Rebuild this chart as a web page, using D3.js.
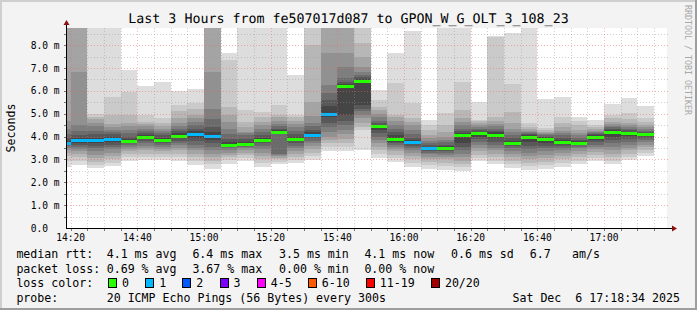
<!DOCTYPE html>
<html lang="en">
<head>
<meta charset="UTF-8">
<title>SmokePing - Last 3 Hours</title>
<style>
  body { margin: 0; background: #f3f3f3; }
  svg { display: block; font-family: 'DejaVu Sans Mono', monospace; }
  text { white-space: pre; }
</style>
</head>
<body>
<svg id="chart" width="697" height="310"></svg>
<script src="https://d3js.org/d3.v7.min.js"></script>
<script>
// ---- data ----
const title = 'Last 3 Hours from fe507017d087 to GPON_W_G_OLT_3_108_23';
const windowStart = '14:18:53';
const windowEnd = '17:18:53';
const timeTicks = ['14:20', '14:40', '15:00', '15:20', '15:40', '16:00', '16:20', '16:40', '17:00'];
const yTicks = [0, 1, 2, 3, 4, 5, 6, 7, 8];
const yTickLabels = ['0.0', '1.0 m', '2.0 m', '3.0 m', '4.0 m', '5.0 m', '6.0 m', '7.0 m', '8.0 m'];

// end time of each 5 minute step
const slotEnds = ['14:20', '14:25', '14:30', '14:35', '14:40', '14:45', '14:50', '14:55', '15:00',
  '15:05', '15:10', '15:15', '15:20', '15:25', '15:30', '15:35', '15:40', '15:45', '15:50', '15:55',
  '16:00', '16:05', '16:10', '16:15', '16:20', '16:25', '16:30', '16:35', '16:40', '16:45', '16:50',
  '16:55', '17:00', '17:05', '17:10', '17:15'];

// median rtt in ms
const medianRtt = [3.71, 3.83, 3.83, 3.90, 3.80, 3.96, 3.87, 4.04, 4.13, 4.03, 3.65, 3.69, 3.87, 4.22,
  3.91, 4.09, 5.00, 6.23, 6.45, 4.45, 3.90, 3.77, 3.48, 3.51, 4.06, 4.16, 4.09, 3.74, 4.00, 3.91,
  3.78, 3.74, 3.99, 4.21, 4.16, 4.10];

// lost pings out of 20
const lossCount = [1, 1, 1, 1, 0, 0, 0, 0, 1, 1, 0, 0, 0, 0, 0, 1, 1, 0, 0, 0, 0, 1, 1, 0, 0, 0, 0, 0,
  0, 0, 0, 0, 0, 0, 0, 0];

// sorted ping times (ms) of each step, 9.9 = above the top of the graph
const pings = [
  [2.69, 2.95, 3.15, 3.30, 3.42, 3.52, 3.60, 3.65, 3.69, 3.71, 3.75, 3.82, 3.95, 4.10, 4.35, 4.70, 9.9, 9.9, 9.9, 9.9],
  [2.76, 2.95, 3.10, 3.22, 3.35, 3.45, 3.55, 3.65, 3.74, 3.82, 3.85, 3.95, 4.08, 4.25, 4.50, 6.84, 9.9, 9.9, 9.9, 9.9],
  [2.62, 2.75, 2.90, 3.05, 3.20, 3.35, 3.50, 3.60, 3.70, 3.80, 3.86, 3.95, 4.10, 4.25, 4.45, 4.60, 4.75, 4.85, 4.98, 9.9],
  [2.72, 2.85, 3.00, 3.15, 3.30, 3.45, 3.55, 3.65, 3.75, 3.87, 3.93, 4.00, 4.10, 4.20, 4.30, 4.40, 4.55, 4.95, 5.75, 9.9],
  [2.95, 3.10, 3.25, 3.35, 3.45, 3.55, 3.62, 3.70, 3.76, 3.79, 3.81, 3.90, 4.00, 4.15, 4.30, 4.45, 4.60, 4.95, 5.97, 6.91],
  [2.97, 3.10, 3.25, 3.40, 3.50, 3.60, 3.70, 3.80, 3.90, 3.95, 3.97, 4.05, 4.15, 4.25, 4.35, 4.45, 4.55, 4.62, 4.95, 6.21],
  [2.97, 3.10, 3.22, 3.35, 3.45, 3.55, 3.65, 3.72, 3.80, 3.86, 3.88, 3.95, 4.05, 4.15, 4.25, 4.35, 4.45, 4.60, 4.80, 6.40],
  [2.95, 3.10, 3.25, 3.40, 3.52, 3.62, 3.72, 3.82, 3.92, 4.02, 4.06, 4.15, 4.25, 4.35, 4.45, 4.60, 4.80, 5.10, 5.40, 6.01],
  [2.76, 2.95, 3.10, 3.25, 3.40, 3.52, 3.65, 3.80, 3.95, 4.10, 4.16, 4.25, 4.35, 4.50, 4.65, 4.80, 4.95, 5.20, 5.47, 6.08],
  [2.59, 2.80, 2.95, 3.10, 3.25, 3.40, 3.55, 3.70, 3.85, 4.00, 4.06, 4.20, 4.40, 4.75, 5.20, 6.84, 9.9, 9.9, 9.9, 9.9],
  [2.82, 2.98, 3.10, 3.20, 3.30, 3.40, 3.48, 3.55, 3.60, 3.64, 3.66, 3.75, 3.90, 4.10, 4.35, 4.65, 4.95, 5.31, 7.35, 7.64],
  [2.91, 3.05, 3.18, 3.30, 3.40, 3.48, 3.56, 3.62, 3.66, 3.68, 3.70, 3.78, 3.90, 4.05, 4.15, 4.22, 4.40, 4.62, 5.16, 9.9],
  [2.69, 2.85, 3.00, 3.15, 3.30, 3.45, 3.58, 3.70, 3.80, 3.86, 3.88, 3.95, 4.05, 4.20, 4.35, 4.50, 4.65, 4.85, 5.09, 9.9],
  [2.79, 2.90, 3.00, 3.08, 3.15, 3.20, 3.25, 4.10, 4.18, 4.21, 4.23, 4.28, 4.35, 4.45, 4.55, 4.70, 4.85, 4.95, 5.38, 9.9],
  [2.84, 2.98, 3.10, 3.22, 3.35, 3.48, 3.60, 3.70, 3.80, 3.90, 3.92, 4.00, 4.10, 4.25, 4.40, 4.55, 4.70, 4.85, 4.95, 6.69],
  [2.97, 3.15, 3.30, 3.45, 3.58, 3.70, 3.82, 3.92, 4.02, 4.08, 4.10, 4.18, 4.30, 4.45, 4.60, 4.90, 5.50, 8.00, 9.9, 9.9],
  [3.37, 3.55, 3.70, 3.85, 4.00, 4.20, 4.40, 4.60, 4.85, 4.98, 5.02, 5.35, 5.60, 5.90, 6.26, 7.64, 9.9, 9.9, 9.9, 9.9],
  [3.35, 3.55, 3.70, 3.90, 4.10, 4.30, 4.50, 4.70, 4.95, 6.20, 6.26, 6.30, 6.40, 6.55, 7.06, 7.64, 9.9, 9.9, 9.9, 9.9],
  [3.42, 4.30, 4.44, 4.60, 4.80, 4.95, 5.10, 5.20, 5.38, 6.42, 6.47, 6.52, 6.60, 6.69, 6.84, 7.06, 7.49, 8.08, 9.9, 9.9],
  [3.05, 3.25, 3.40, 3.55, 3.70, 3.85, 4.00, 4.15, 4.30, 4.43, 4.47, 4.52, 4.60, 4.70, 4.85, 5.00, 5.15, 5.30, 5.60, 6.04],
  [2.90, 3.05, 3.20, 3.35, 3.45, 3.55, 3.62, 3.70, 3.78, 3.88, 3.92, 4.05, 4.20, 4.35, 4.50, 4.70, 4.85, 4.95, 6.33, 7.64],
  [2.65, 2.85, 3.00, 3.15, 3.28, 3.40, 3.50, 3.60, 3.70, 3.76, 3.78, 3.85, 3.95, 4.10, 4.30, 4.50, 4.65, 4.80, 5.46, 8.62],
  [2.59, 2.75, 2.90, 3.02, 3.12, 3.22, 3.30, 3.38, 3.44, 3.47, 3.49, 3.55, 3.62, 3.72, 3.82, 3.92, 4.05, 4.30, 4.52, 4.73],
  [2.52, 2.70, 2.85, 3.00, 3.10, 3.20, 3.30, 3.38, 3.45, 3.50, 3.52, 3.58, 3.65, 3.75, 3.85, 4.00, 4.20, 4.51, 5.02, 9.9],
  [2.50, 2.65, 2.80, 2.95, 3.10, 3.25, 3.40, 3.55, 3.70, 4.03, 4.08, 4.15, 4.25, 4.35, 4.50, 4.65, 4.80, 5.17, 6.40, 9.9],
  [2.91, 3.05, 3.20, 3.35, 3.50, 3.62, 3.75, 3.88, 4.00, 4.14, 4.18, 4.22, 4.28, 4.35, 4.42, 4.50, 4.60, 4.66, 4.73, 5.50],
  [2.80, 2.95, 3.10, 3.25, 3.40, 3.52, 3.65, 3.78, 3.92, 4.07, 4.11, 4.18, 4.25, 4.35, 4.45, 4.55, 4.70, 4.87, 8.37, 8.40],
  [2.63, 2.80, 2.95, 3.10, 3.25, 3.38, 3.50, 3.60, 3.68, 3.73, 3.75, 3.82, 3.92, 4.05, 4.20, 4.35, 4.60, 5.09, 6.30, 8.51],
  [2.52, 2.70, 2.85, 3.00, 3.15, 3.30, 3.45, 3.60, 3.75, 3.98, 4.02, 4.06, 4.10, 4.15, 4.20, 4.26, 4.32, 4.40, 4.58, 9.9],
  [2.59, 2.75, 2.90, 3.05, 3.20, 3.35, 3.48, 3.60, 3.72, 3.90, 3.92, 3.96, 4.00, 4.05, 4.10, 4.15, 4.20, 4.28, 4.37, 5.64],
  [2.69, 2.85, 3.00, 3.15, 3.28, 3.40, 3.50, 3.60, 3.70, 3.77, 3.79, 3.86, 3.95, 4.05, 4.15, 4.25, 4.40, 4.60, 4.87, 5.75],
  [2.79, 2.95, 3.10, 3.25, 3.38, 3.48, 3.56, 3.63, 3.69, 3.73, 3.75, 3.80, 3.87, 3.95, 4.05, 4.15, 4.30, 4.50, 4.66, 4.87],
  [2.91, 3.05, 3.20, 3.32, 3.44, 3.55, 3.65, 3.75, 3.85, 3.98, 4.00, 4.05, 4.10, 4.15, 4.20, 4.26, 4.32, 4.40, 4.51, 4.73],
  [2.79, 2.95, 3.10, 3.25, 3.40, 3.55, 3.70, 3.85, 4.00, 4.20, 4.22, 4.27, 4.32, 4.40, 4.48, 4.56, 4.65, 4.80, 4.95, 5.41],
  [2.98, 3.10, 3.25, 3.40, 3.52, 3.65, 3.78, 3.90, 4.02, 4.15, 4.17, 4.22, 4.28, 4.35, 4.42, 4.50, 4.60, 4.75, 5.02, 5.68],
  [3.17, 3.30, 3.42, 3.55, 3.65, 3.75, 3.85, 3.93, 4.02, 4.09, 4.11, 4.15, 4.20, 4.25, 4.32, 4.40, 4.50, 4.62, 4.80, 5.34]
];

const medianLegend = ['median rtt:', '4.1 ms avg', '6.4 ms max', '3.5 ms min', '4.1 ms now', '0.6 ms sd', '6.7', 'am/s'];
const lossLegend = ['packet loss:', '0.69 % avg', '3.67 % max', '0.00 % min', '0.00 % now'];
const lossLabels = ['0', '1', '2', '3', '4-5', '6-10', '11-19', '20/20'];
const lossColors = ['#26ff00', '#00b8ff', '#0059ff', '#7e00ff', '#ff00ff', '#ff5a00', '#ff0000', '#a00000'];
const probeLegend = ['probe:', '20 ICMP Echo Pings (56 Bytes) every 300s'];
const stamp = 'Sat Dec  6 17:18:34 2025';
const sideText = 'RRDTOOL / TOBI OETIKER';

// ---- layout ----
const W = 697, H = 310;
const plot = { left: 67, right: 667, top: 28, bottom: 228 };
const legendCols = [16.4, 106.7, 192.4, 279, 364.4, 451, 529.8, 572];
const legendRows = [258, 272.5, 287, 301.5];
const charW = 6.97;

const parseT = d3.timeParse('%H:%M:%S');
const parseHM = d3.timeParse('%H:%M');

const x = d3.scaleTime()
  .domain([parseT(windowStart), parseT(windowEnd)])
  .range([plot.left, plot.right]);
const y = d3.scaleLinear()
  .domain([0, 8.75])
  .range([plot.bottom, plot.top])
  .clamp(true);

const svg = d3.select('#chart');

// background + 3d border
svg.append('rect').attr('width', W).attr('height', H).attr('fill', '#f3f3f3');
svg.append('rect').attr('x', 0).attr('y', 0).attr('width', W).attr('height', 2).attr('fill', '#cfcfcf');
svg.append('rect').attr('x', 0).attr('y', 0).attr('width', 2).attr('height', H).attr('fill', '#cfcfcf');
svg.append('rect').attr('x', 0).attr('y', H - 2).attr('width', W).attr('height', 2).attr('fill', '#9e9e9e');
svg.append('rect').attr('x', W - 2).attr('y', 0).attr('width', 2).attr('height', H).attr('fill', '#9e9e9e');

// canvas
svg.append('rect')
  .attr('x', plot.left).attr('y', plot.top)
  .attr('width', plot.right - plot.left).attr('height', plot.bottom - plot.top)
  .attr('fill', '#ffffff');

svg.append('clipPath').attr('id', 'clip')
  .append('rect')
  .attr('x', plot.left).attr('y', plot.top)
  .attr('width', plot.right - plot.left).attr('height', plot.bottom - plot.top);

const g = svg.append('g').attr('clip-path', 'url(#clip)');

// smoke: band i spans ping i .. ping (21-i), darker towards the middle
const slots = slotEnds.map((s, i) => {
  const end = parseHM(s);
  return {
    x0: Math.round(x(d3.timeMinute.offset(end, -5))),
    x1: Math.round(x(end)),
    pings: pings[i],
    median: medianRtt[i],
    loss: lossCount[i]
  };
});

const half = 10;
slots.forEach(s => {
  for (let b = 1; b <= half; b++) {
    const lo = s.pings[b - 1], hi = s.pings[20 - b];
    if (lo == null || hi == null) continue;
    const v = Math.floor(190 / half * (half - b)) + 50;
    const col = d3.rgb(v, v, v).formatHex();
    const y0 = Math.round(y(hi)), y1 = Math.round(y(lo));
    g.append('rect')
      .attr('x', s.x0).attr('y', y0)
      .attr('width', s.x1 - s.x0).attr('height', Math.max(0, y1 - y0))
      .attr('fill', col)
      .attr('shape-rendering', 'crispEdges');
  }
});

// median marks coloured by loss
g.selectAll('rect.median')
  .data(slots)
  .join('rect')
  .attr('class', 'median')
  .attr('x', d => d.x0)
  .attr('y', d => Math.round(y(d.median)) - 1)
  .attr('width', d => d.x1 - d.x0)
  .attr('height', 3)
  .attr('fill', d => lossColors[d.loss])
  .attr('shape-rendering', 'crispEdges');

// grid on top (semi transparent like rrdtool)
const minorY = d3.range(0.5, 8.75, 0.5).filter(v => v % 1 !== 0);
const majorY = yTicks.filter(v => v > 0);
const minorX = d3.timeMinute.every(5).range(parseT(windowStart), parseT(windowEnd));
const majorX = timeTicks.map(parseHM);

const grid = svg.append('g').attr('shape-rendering', 'crispEdges');
grid.selectAll('line.gy')
  .data(minorY)
  .join('line')
  .attr('x1', plot.left).attr('x2', plot.right + 1)
  .attr('y1', d => Math.round(y(d)) + 0.5).attr('y2', d => Math.round(y(d)) + 0.5)
  .attr('stroke', 'rgba(150,150,150,0.45)').attr('stroke-dasharray', '1,2');
grid.selectAll('line.gx')
  .data(minorX.filter(t => !majorX.some(m => +m === +t)))
  .join('line')
  .attr('x1', d => Math.round(x(d)) + 0.5).attr('x2', d => Math.round(x(d)) + 0.5)
  .attr('y1', plot.top).attr('y2', plot.bottom)
  .attr('stroke', 'rgba(150,150,150,0.45)').attr('stroke-dasharray', '1,2');
grid.selectAll('line.my')
  .data(majorY)
  .join('line')
  .attr('x1', plot.left).attr('x2', plot.right + 1)
  .attr('y1', d => Math.round(y(d)) + 0.5).attr('y2', d => Math.round(y(d)) + 0.5)
  .attr('stroke', 'rgba(240,100,100,0.5)').attr('stroke-dasharray', '1,2');
grid.selectAll('line.mx')
  .data(majorX)
  .join('line')
  .attr('x1', d => Math.round(x(d)) + 0.5).attr('x2', d => Math.round(x(d)) + 0.5)
  .attr('y1', plot.top).attr('y2', plot.bottom)
  .attr('stroke', 'rgba(240,100,100,0.45)').attr('stroke-dasharray', '1,2');

// axes
const axisG = svg.append('g').attr('shape-rendering', 'crispEdges');
axisG.selectAll('line.ty')
  .data(minorY.concat(majorY))
  .join('line')
  .attr('x1', plot.left - 3).attr('x2', plot.left)
  .attr('y1', d => Math.round(y(d)) + 0.5).attr('y2', d => Math.round(y(d)) + 0.5)
  .attr('stroke', '#777');
axisG.selectAll('line.tx')
  .data(minorX)
  .join('line')
  .attr('x1', d => Math.round(x(d)) + 0.5).attr('x2', d => Math.round(x(d)) + 0.5)
  .attr('y1', plot.bottom).attr('y2', plot.bottom + 3)
  .attr('stroke', '#777');
axisG.append('line')
  .attr('x1', plot.left - 0.5).attr('x2', plot.left - 0.5)
  .attr('y1', plot.bottom + 1).attr('y2', plot.top - 4)
  .attr('stroke', '#000');
axisG.append('line')
  .attr('x1', plot.left - 1).attr('x2', plot.right + 5)
  .attr('y1', plot.bottom + 0.5).attr('y2', plot.bottom + 0.5)
  .attr('stroke', '#000');
svg.append('path')
  .attr('d', `M${plot.left - 3.5},${plot.top - 3}L${plot.left + 2.5},${plot.top - 3}L${plot.left - 0.5},${plot.top - 8}Z`)
  .attr('fill', '#8b1010');
svg.append('path')
  .attr('d', `M${plot.right + 5},${plot.bottom - 2.5}L${plot.right + 5},${plot.bottom + 3.5}L${plot.right + 10},${plot.bottom + 0.5}Z`)
  .attr('fill', '#8b1010');

// tick labels
svg.selectAll('text.yl')
  .data(yTicks)
  .join('text')
  .attr('x', 30.7)
  .attr('y', d => y(d) + 3.5)
  .attr('font-size', 9.6)
  .attr('fill', '#000')
  .text((d, i) => yTickLabels[i]);
svg.selectAll('text.xl')
  .data(timeTicks)
  .join('text')
  .attr('x', d => x(parseHM(d)))
  .attr('y', 241)
  .attr('text-anchor', 'middle')
  .attr('font-size', 9.6)
  .attr('fill', '#000')
  .text(d => d);

// title and side texts
svg.append('text')
  .attr('x', W / 2).attr('y', 23)
  .attr('text-anchor', 'middle')
  .attr('font-size', 13.3)
  .attr('fill', '#000')
  .attr('text-rendering', 'geometricPrecision')
  .text(title);
svg.append('text')
  .attr('transform', `translate(14.5,${(plot.top + plot.bottom) / 2}) rotate(-90)`)
  .attr('text-anchor', 'middle')
  .attr('font-size', 11.6)
  .attr('fill', '#000')
  .text('Seconds');
svg.append('text')
  .attr('transform', 'translate(684.5,5) rotate(90)')
  .attr('font-size', 8.3)
  .attr('fill', '#a8a8a8')
  .text(sideText);

// legend
const legend = svg.append('g').attr('font-size', 11.6).attr('fill', '#000');
medianLegend.forEach((t, i) => {
  legend.append('text').attr('x', legendCols[i]).attr('y', legendRows[0]).text(t);
});
lossLegend.forEach((t, i) => {
  legend.append('text').attr('x', legendCols[i]).attr('y', legendRows[1]).text(t);
});
legend.append('text').attr('x', legendCols[0]).attr('y', legendRows[2]).text('loss color:');
let lx = 108;
lossLabels.forEach((t, i) => {
  legend.append('rect')
    .attr('x', lx + 0.5).attr('y', legendRows[2] - 8.5)
    .attr('width', 8).attr('height', 9)
    .attr('fill', lossColors[i])
    .attr('stroke', '#000').attr('stroke-width', 1)
    .attr('shape-rendering', 'crispEdges');
  legend.append('text').attr('x', lx + 14).attr('y', legendRows[2]).text(t);
  lx += 14 + t.length * charW + 16.2;
});
legend.append('text').attr('x', legendCols[0]).attr('y', legendRows[3]).text(probeLegend[0]);
legend.append('text').attr('x', legendCols[1]).attr('y', legendRows[3]).text(probeLegend[1]);
legend.append('text').attr('x', 680).attr('y', legendRows[3]).attr('text-anchor', 'end').text(stamp);
</script>
</body>
</html>
